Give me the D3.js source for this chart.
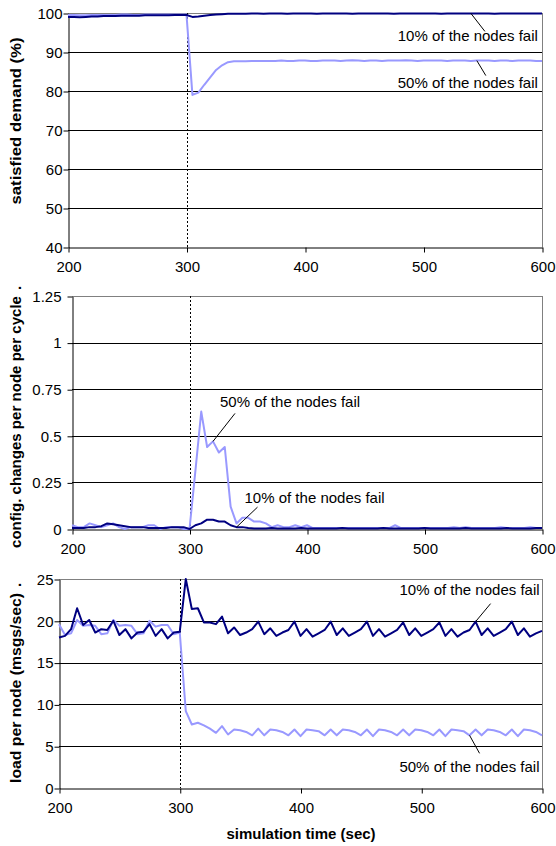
<!DOCTYPE html>
<html>
<head>
<meta charset="utf-8">
<script src="https://cdn.jsdelivr.net/npm/d3@7"></script>
<style>
  body { margin: 0; background: #fff; }
  svg { display: block; font-family: Arial, "Liberation Sans", sans-serif; }
</style>
</head>
<body>
<div id="chart"></div>
<script>
// sample times, one value every 5 sec from 200 to 600
const times = d3.range(200, 605, 5);
const xTicks = [200, 300, 400, 500, 600];
const demandTicks = [40, 50, 60, 70, 80, 90, 100];
const changeTicks = [0, 0.25, 0.5, 0.75, 1, 1.25];
const loadTicks = [0, 5, 10, 15, 20, 25];

// satisfied demand (%)
const demand10 = [
  99.0, 99.0, 98.9, 99.0, 99.1, 99.1, 99.2, 99.2, 99.2, 99.3, 99.3, 99.3, 99.3, 99.4, 99.4, 99.4, 99.4, 99.4, 99.5, 99.5, 99.5,
  99.0, 99.1, 99.3, 99.5, 99.6, 99.7, 99.8, 99.8,
  99.8, 99.8, 99.9, 99.9, 99.8, 99.9, 99.9, 99.9, 99.8, 99.9,
  99.9, 99.9, 99.9, 99.8, 99.9, 99.9, 99.9, 99.9, 99.9, 99.8,
  99.9, 99.9, 99.9, 99.9, 99.9, 99.9, 99.8, 99.9, 99.9, 99.9,
  99.9, 99.9, 99.9, 99.9, 99.8, 99.9, 99.9, 99.9, 99.9, 99.9,
  99.9, 99.9, 99.9, 99.8, 99.9, 99.9, 99.9, 99.9, 99.9, 99.9,
  99.9, 99.9
];
const demand50 = [
  99.5, 99.5, 99.4, 99.4, 99.5, 99.5, 99.5, 99.5, 99.5, 99.6, 99.6, 99.5, 99.5, 99.6, 99.6, 99.6, 99.6, 99.6, 99.6, 99.6, 99.6,
  79.0, 79.6, 81.6, 83.5, 85.4, 86.6, 87.4, 87.6,
  87.6, 87.6, 87.7, 87.7, 87.7, 87.7, 87.7, 87.8, 87.7, 87.7,
  87.8, 87.8, 87.7, 87.7, 87.8, 87.8, 87.8, 87.7, 87.8, 87.9,
  87.8, 87.7, 87.8, 87.8, 87.7, 87.8, 87.8, 87.8, 87.9, 87.8,
  87.7, 87.8, 87.8, 87.8, 87.8, 87.7, 87.8, 87.8, 87.8, 87.7,
  87.8, 87.8, 87.8, 87.7, 87.8, 87.8, 87.7, 87.8, 87.8, 87.8,
  87.7, 87.7
];

// config. changes per node per cycle
const config10 = [
  0.005, 0.005, 0.005, 0.01, 0.01, 0.015, 0.03, 0.025, 0.02, 0.015, 0.01, 0.01, 0.01, 0.005, 0.005, 0.005, 0.005, 0.01, 0.01, 0.01, 0.0,
  0.02, 0.03, 0.05, 0.05, 0.04, 0.04, 0.02, 0.01, 0.01, 0.005, 0.003,
  0.003, 0.003, 0.005, 0.003, 0.003, 0.003, 0.003, 0.005, 0.003, 0.003,
  0.003, 0.003, 0.003, 0.003, 0.005, 0.003, 0.003, 0.003, 0.003, 0.003,
  0.003, 0.005, 0.003, 0.003, 0.003, 0.003, 0.003, 0.003, 0.005, 0.003,
  0.003, 0.003, 0.003, 0.003, 0.003, 0.005, 0.003, 0.003, 0.003, 0.003,
  0.003, 0.003, 0.005, 0.003, 0.003, 0.003, 0.003, 0.005, 0.005
];
const config50 = [
  0.02, 0.01, 0.01, 0.03, 0.02, 0.01, 0.02, 0.03, 0.01, 0.0, 0.01, 0.01, 0.01, 0.02, 0.02, 0.0, 0.01, 0.01, 0.01, 0.0, 0.0,
  0.31, 0.63, 0.44, 0.47, 0.41, 0.44, 0.12, 0.03, 0.06, 0.06, 0.04, 0.04, 0.03, 0.01, 0.02, 0.01, 0.01, 0.02, 0.01, 0.02,
  0.005, 0.005, 0.005, 0.005, 0.005, 0.005, 0.005, 0.005, 0.005, 0.005,
  0.005, 0.005, 0.005, 0.005, 0.02, 0.005, 0.005, 0.005, 0.005, 0.005,
  0.005, 0.005, 0.005, 0.005, 0.01, 0.005, 0.01, 0.005, 0.005, 0.005,
  0.005, 0.005, 0.01, 0.005, 0.005, 0.005, 0.005, 0.01, 0.005, 0.005
];

// load per node (msgs/sec)
const load10 = [
  18.0, 18.2, 19.0, 21.5, 19.5, 20.1, 18.6, 19.0, 18.9, 20.0, 18.3, 19.0, 17.9, 18.6, 18.7, 19.6, 18.2, 19.0, 17.9, 18.6, 18.7,
  25.0, 21.4, 21.5, 19.8, 19.8, 19.6, 20.5,
  18.5, 19.2, 18.3, 18.6, 19.0, 19.9,
  18.4, 19.1, 18.2, 18.6, 18.9, 19.9,
  18.2, 19.0, 18.1, 18.5, 18.9, 19.9,
  18.3, 19.1, 18.2, 18.6, 19.0, 19.9,
  18.2, 19.0, 18.1, 18.5, 18.9, 19.8,
  18.3, 19.1, 18.2, 18.6, 19.0, 19.8,
  18.2, 19.0, 18.1, 18.6, 18.9, 19.9,
  18.3, 19.1, 18.2, 18.6, 19.0, 19.9,
  18.3, 19.1, 18.1, 18.5, 18.8
];
const load50 = [
  19.6, 18.3, 18.5, 20.1, 19.4, 19.5, 19.4, 18.4, 18.5, 20.1, 19.4, 19.5, 19.4, 18.4, 18.5, 20.0, 19.3, 19.5, 19.5, 18.4, 18.6,
  9.2, 7.6, 7.8, 7.5, 7.1, 6.6, 7.4,
  6.4, 7.0, 6.9, 6.7, 6.3, 7.1,
  6.3, 7.0, 6.9, 6.7, 6.3, 7.0,
  6.2, 7.0, 6.9, 6.8, 6.3, 7.0,
  6.3, 7.0, 6.9, 6.7, 6.3, 7.0,
  6.2, 7.0, 6.9, 6.7, 6.3, 7.0,
  6.3, 7.0, 6.9, 6.7, 6.3, 7.0,
  6.2, 7.0, 6.9, 6.8, 6.3, 7.0,
  6.3, 7.0, 6.9, 6.7, 6.3, 7.0,
  6.2, 7.0, 6.9, 6.7, 6.3
];

const dark = "#000080";
const light = "#9999FF";
const failureTime = 300;

const svg = d3.select("#chart")
  .append("svg")
  .attr("width", 556)
  .attr("height", 846);

svg.append("rect").attr("width", 556).attr("height", 846).attr("fill", "#fff");

// each panel: pixel box of the plot area, y scale, axis title and the callouts
const panels = [
  {
    left: 68, right: 542, top: 13, bottom: 247,
    domain: [40, 100], ticks: demandTicks, labelGap: 6,
    title: "satisfied demand (%)", titleY: 121, titleLen: 167, dotY: null,
    series: [demand50, demand10],
    notes: [
      { text: "10% of the nodes fail", series: 1, at: 540, to: [14, 18], txt: [67, 24], anchor: "end" },
      { text: "50% of the nodes fail", series: 0, at: 545, to: [9, 15], txt: [61, 23], anchor: "end" }
    ]
  },
  {
    left: 72, right: 542, top: 296, bottom: 529,
    domain: [0, 1.25], ticks: changeTicks, labelGap: 11,
    title: "config. changes per node per cycle", titleY: 422, titleLen: 252, dotY: 288,
    series: [config50, config10],
    notes: [
      { text: "50% of the nodes fail", series: 0, at: 320, to: [22, -28], txt: [7, -38], anchor: "start" },
      { text: "10% of the nodes fail", series: 1, at: 340, to: [21, -20], txt: [8, -28], anchor: "start" }
    ]
  },
  {
    left: 59, right: 542, top: 579, bottom: 788,
    domain: [0, 25], ticks: loadTicks, labelGap: 6,
    title: "load per node (msgs/sec)", titleY: 688, titleLen: 190, dotY: 585,
    series: [load50, load10],
    notes: [
      { text: "10% of the nodes fail", series: 1, at: 545, to: [15, -18], txt: [64, -31], anchor: "end" },
      { text: "50% of the nodes fail", series: 0, at: 540, to: [10, 18], txt: [70, 33], anchor: "end" }
    ]
  }
];

panels.forEach((p, i) => {
  const g = svg.append("g");

  const x = d3.scaleLinear().domain([200, 600]).range([p.left, p.right]);
  const y = d3.scaleLinear().domain(p.domain).range([p.bottom, p.top]);

  // horizontal gridlines
  g.selectAll(".grid")
    .data(p.ticks.slice(1))
    .enter()
    .append("line")
      .attr("x1", p.left).attr("x2", p.right)
      .attr("y1", d => Math.round(y(d)) + 0.5)
      .attr("y2", d => Math.round(y(d)) + 0.5)
      .attr("stroke", d => d === p.domain[1] ? "#808080" : "#000")
      .attr("stroke-width", 1);

  // grey plot border on the right
  g.append("line")
    .attr("x1", p.right + 0.5).attr("x2", p.right + 0.5)
    .attr("y1", p.top).attr("y2", p.bottom)
    .attr("stroke", "#808080");

  // dotted marker where nodes fail
  g.append("line")
    .attr("x1", Math.round(x(failureTime)) + 0.5).attr("x2", Math.round(x(failureTime)) + 0.5)
    .attr("y1", p.top).attr("y2", p.bottom)
    .attr("stroke", "#000")
    .attr("stroke-dasharray", "2,2");

  // axes
  const yAxis = g.append("g")
    .attr("transform", `translate(${p.left + 0.5},0.5)`)
    .call(d3.axisLeft(y).tickValues(p.ticks).tickSize(5).tickSizeOuter(0).tickPadding(p.labelGap - 5).tickFormat(d => d));
  const xAxis = g.append("g")
    .attr("transform", `translate(0.5,${p.bottom + 0.5})`)
    .call(d3.axisBottom(x).tickValues(xTicks).tickSize(5).tickSizeOuter(0).tickPadding(9));

  [yAxis, xAxis].forEach(a => {
    a.select(".domain").attr("stroke", "#000");
    a.selectAll("line").attr("stroke", "#000");
    a.selectAll("text")
      .style("font-size", "15px")
      .style("font-family", "Arial, 'Liberation Sans', sans-serif")
      .attr("fill", "#000");
  });

  // data lines, light series first so the dark one sits on top
  const line = d3.line()
    .x((d, k) => x(times[k]))
    .y(d => y(d));

  p.series.forEach((s, k) => {
    g.append("path")
      .datum(s)
      .attr("d", line)
      .attr("fill", "none")
      .attr("stroke", k === 0 ? light : dark)
      .attr("stroke-width", 2)
      .attr("stroke-linejoin", "round");
  });

  // callouts with leader lines
  p.notes.forEach(n => {
    const s = p.series[n.series];
    const px = x(n.at);
    const py = y(s[times.indexOf(n.at)]);
    g.append("line")
      .attr("x1", px).attr("y1", py)
      .attr("x2", px + n.to[0]).attr("y2", py + n.to[1])
      .attr("stroke", "#000")
      .attr("stroke-width", 1);
    g.append("text")
      .attr("x", px + n.txt[0])
      .attr("y", py + n.txt[1])
      .attr("text-anchor", n.anchor)
      .attr("dominant-baseline", "middle")
      .style("font-size", "15px")
      .text(n.text);
  });

  // y-axis title (the trailing dot sits apart, near the top of the plot)
  g.append("text")
    .attr("transform", `translate(17,${p.titleY}) rotate(-90)`)
    .attr("text-anchor", "middle")
    .attr("dominant-baseline", "middle")
    .attr("textLength", p.titleLen)
    .attr("lengthAdjust", "spacingAndGlyphs")
    .style("font-size", "15px")
    .style("font-weight", "bold")
    .text(p.title);

  if (p.dotY !== null) {
    g.append("text")
      .attr("transform", `translate(17,${p.dotY}) rotate(-90)`)
      .attr("text-anchor", "middle")
      .attr("dominant-baseline", "middle")
      .style("font-size", "15px")
      .style("font-weight", "bold")
      .text(".");
  }

  if (i === panels.length - 1) {
    g.append("text")
      .attr("x", 301)
      .attr("y", 835)
      .attr("text-anchor", "middle")
      .attr("dominant-baseline", "middle")
      .style("font-size", "15px")
      .style("font-weight", "bold")
      .text("simulation time (sec)");
  }
});
</script>
</body>
</html>
